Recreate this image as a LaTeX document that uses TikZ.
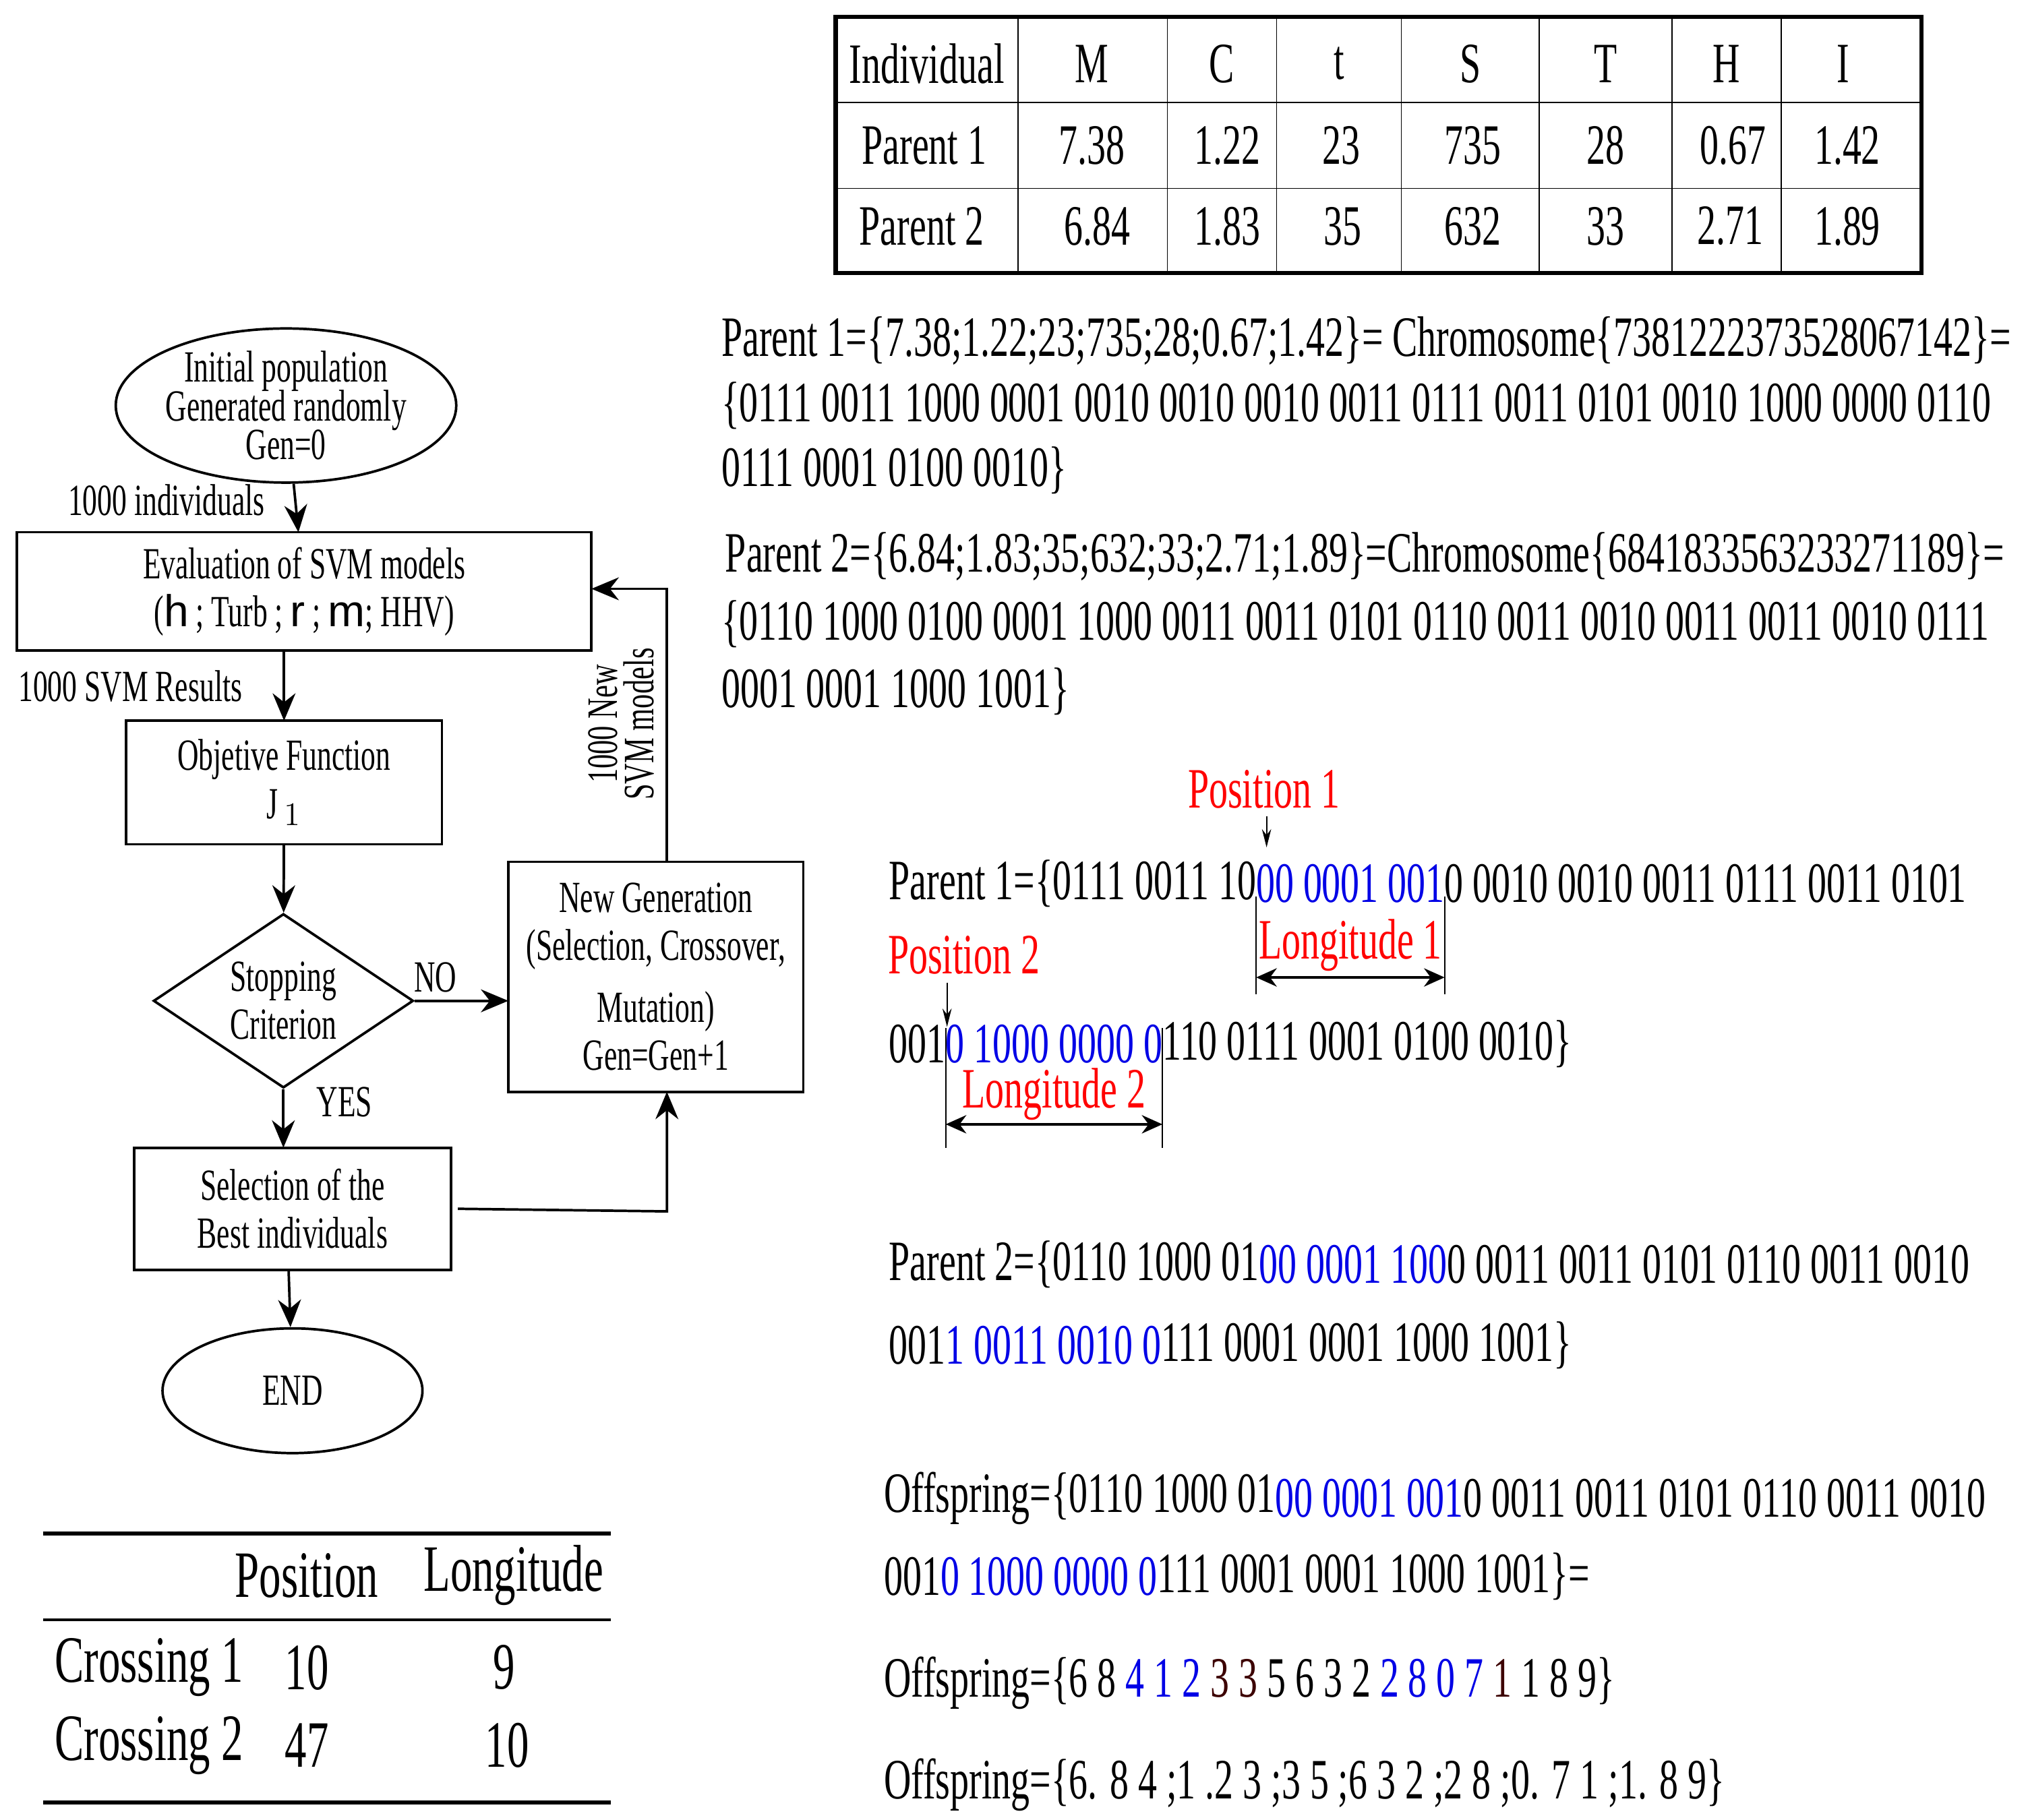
\documentclass[tikz,border=0pt]{standalone}
\usepackage{fontspec}
\setmainfont{Liberation Serif}[FakeStretch=0.66]
\newfontfamily\sansf{Liberation Sans}
\usetikzlibrary{shapes.geometric,arrows.meta,calc}
\definecolor{myblue}{RGB}{0,0,230}
\definecolor{dred}{RGB}{60,0,0}
\begin{document}
\begin{tikzpicture}[x=0.02cm,y=-0.02cm,
  fl/.style={line width=1.1pt},
  arr/.style={fl,-{Stealth[length=12pt,width=10pt]}},
  box/.style={draw,fl,inner sep=0,outer sep=0},
  ft/.style={font=\fontsize{19.5}{21}\selectfont,align=center},
  big/.style={font=\fontsize{25}{30}\selectfont,anchor=west,inner sep=0,outer sep=0},
  tb/.style={font=\fontsize{25}{30}\selectfont},
  red/.style={text=red,font=\fontsize{25}{30}\selectfont},
  dim/.style={line width=0.5pt},
  darr/.style={line width=1.2pt,{Stealth[length=9pt,width=8pt]}-{Stealth[length=9pt,width=8pt]}},
  sarr/.style={line width=0.6pt,-{Stealth[length=8pt,width=4pt]}}]
\useasboundingbox (0,0) rectangle (1560,1400);
\coordinate (y607) at (0,607);
\coordinate (y727) at (0,727);
\coordinate (y752) at (0,752);
\coordinate (y735) at (0,735);
\coordinate (y790) at (0,790);
\coordinate (y842) at (0,842);
\coordinate (y865) at (0,865);
% ---------- top table ----------
\draw[line width=2pt] (643,13) rectangle (1478,210);
\foreach \y in {79,145} \draw[line width=0.5pt] (643,\y)--(1478,\y);
\foreach \x in {783,898,982,1078,1184,1286,1370} \draw[line width=0.5pt] (\x,13)--(\x,210);
\foreach \t/\x in {Individual/713,M/840,C/940,t/1030,S/1131,T/1235,H/1328,I/1418}
  \node[tb] at (\x,49) {\t};
\foreach \t/\x in {Parent 1/711,7.38/840,1.22/944,23/1032,735/1133,28/1235,0.67/1333,1.42/1421}
  \node[tb] at (\x,112) {\t};
\foreach \t/\x in {Parent 2/709,6.84/844,1.83/944,35/1033,632/1133,33/1235,2.71/1331,1.89/1421}
  \node[tb] at (\x,174) {\t};
% ---------- parent strings ----------
\node[big] (p1a) at (555,262) {Parent 1=\{7.38;1.22;23;735;28;0.67;1.42\}= Chromosome\{7381222373528067142\}=};
\node[big] (p1b) at (555,312) {\{0111 0011 1000 0001 0010 0010 0010 0011 0111 0011 0101 0010 1000 0000 0110};
\node[big] (p1c) at (555,362) {0111 0001 0100 0010\}};
\node[big] (p2a) at (558,428) {Parent 2=\{6.84;1.83;35;632;33;2.71;1.89\}=Chromosome\{6841833563233271189\}=};
\node[big] (p2b) at (555,480) {\{0110 1000 0100 0001 1000 0011 0011 0101 0110 0011 0010 0011 0011 0010 0111};
\node[big] (p2c) at (555,532) {0001 0001 1000 1001\}};
% ---------- crossover on parent 1 ----------
\node[big] (c1a) at (684,680) {Parent 1=\{0111 0011 10};
\node[big,text=myblue] (c1b) at (c1a.east) {00 0001 001};
\node[big] (c1c) at (c1b.east) {0 0010 0010 0011 0111 0011 0101};
\node[big] (c2a) at (684,803) {001};
\node[big,text=myblue] (c2b) at (c2a.east) {0 1000 0000 0};
\node[big] (c2c) at (c2b.east) {110 0111 0001 0100 0010\}};
\node[red] (pos1) at ($(c1b.west |- y607)+(6,0)$) {Position 1};
\coordinate (p1t) at ($(c1b.west |- y607)+(8,45)$);
\draw[sarr] (p1t |- pos1.south) -- (p1t);
\draw[dim] (c1b.west) ++(0,10) -- ++(0,75);
\draw[dim] (c1b.east) ++(0,10) -- ++(0,75);
\coordinate (m1) at ($(c1b.west)!0.5!(c1b.east)$);
\node[red] at (m1 |- y727) {Longitude 1};
\draw[darr] (c1b.west |- y752) -- (c1b.east |- y752);
\node[red] (pos2) at ($(c2b.west |- y735)+(14,0)$) {Position 2};
\coordinate (p2t) at ($(c2b.west |- y790)+(1,0)$);
\draw[sarr] (p2t |- pos2.south) -- (p2t);
\draw[dim] (c2b.west) ++(0,-12) -- ++(0,92);
\draw[dim] (c2b.east) ++(0,-12) -- ++(0,92);
\coordinate (m2) at ($(c2b.west)!0.5!(c2b.east)$);
\node[red] at (m2 |- y842) {Longitude 2};
\draw[darr] (c2b.west |- y865) -- (c2b.east |- y865);
% ---------- parent 2 crossover ----------
\node[big] (d1a) at (684,973) {Parent 2=\{0110 1000 01};
\node[big,text=myblue] (d1b) at (d1a.east) {00 0001 100};
\node[big] (d1c) at (d1b.east) {0 0011 0011 0101 0110 0011 0010};
\node[big] (d2a) at (684,1035) {001};
\node[big,text=myblue] (d2b) at (d2a.east) {1 0011 0010 0};
\node[big] (d2c) at (d2b.east) {111 0001 0001 1000 1001\}};
% ---------- offspring ----------
\node[big] (o1a) at (680,1153) {Offspring=\{0110 1000 01};
\node[big,text=myblue] (o1b) at (o1a.east) {00 0001 001};
\node[big] (o1c) at (o1b.east) {0 0011 0011 0101 0110 0011 0010};
\node[big] (o2a) at (680,1213) {001};
\node[big,text=myblue] (o2b) at (o2a.east) {0 1000 0000 0};
\node[big] (o2c) at (o2b.east) {111 0001 0001 1000 1001\}=};
\node[big] (o3) at (680,1295) {Offspring=\{6 8 \textcolor{myblue}{4 1 2} \textcolor{dred}{3 3} 5 6 3 2 \textcolor{myblue}{2 8 0 7} \textcolor{dred}{1} 1 8 9\}};
\node[big] (o4) at (680,1373) {Offspring=\{6. 8 4 ;1 .2 3 ;3 5 ;6 3 2 ;2 8 ;0. 7 1 ;1. 8 9\}};
% ---------- flowchart ----------
\node[draw,fl,ellipse,minimum width=5cm,minimum height=1.92cm,ft,inner sep=0] (start) at (220,312)
  {Initial population\\[-4pt]Generated randomly\\[-4pt]Gen=0};
\node[box,ft,minimum width=8.84cm,minimum height=1.82cm] (eval) at (234,455)
  {Evaluation of SVM models\\({\sansf h} ; Turb ; {\sansf r} ; {\sansf m}; HHV)};
\node[box,ft,minimum width=4.86cm,minimum height=1.9cm] (obj) at (218.5,602)
  {Objetive Function\\J$_{\,1}$};
\node[draw,fl,diamond,aspect=1.49,minimum width=4cm,minimum height=2.68cm,ft,inner sep=0] (stop) at (218,770)
  {Stopping\\Criterion};
\node[box,ft,minimum width=4.54cm,minimum height=3.54cm] (newg) at (504.5,751.5)
  {New Generation\\(Selection, Crossover,\\[6pt]Mutation)\\Gen=Gen+1};
\node[box,ft,minimum width=4.88cm,minimum height=1.88cm] (sel) at (225,930)
  {Selection of the\\Best individuals};
\node[draw,fl,ellipse,minimum width=4cm,minimum height=1.92cm,ft] (endn) at (225,1070) {END};
\draw[arr] (start) -- (eval);
\node[ft,anchor=east] at (210,385) {1000 individuals};
\draw[arr] (eval.south -| obj) -- (obj);
\node[ft,anchor=west] at (8,528) {1000 SVM Results};
\draw[arr] (obj) -- (stop);
\draw[arr] (stop.east) -- (newg.west |- stop.east);
\node[ft] at (335,752) {NO};
\draw[arr] (stop.south) -- (sel.north -| stop.south);
\node[ft] at (265,848) {YES};
\coordinate (x222) at (222,0);
\draw[arr] (sel.south -| x222) -- (endn);
\coordinate (k1) at (513,932);
\draw[arr] ([xshift=3]sel.east) -- (k1) -- (newg.south -| k1);
\coordinate (k2) at (513,453);
\draw[arr] (newg.north -| k2) -- (k2) -- (eval.east |- k2);
\node[ft,rotate=90,font=\fontsize{19}{16}\selectfont] at (478,557) {1000 New\\SVM models};
% ---------- bottom table ----------
\draw[line width=1.8pt] (33,1180) -- (470,1180);
\draw[line width=1.2pt] (33,1246) -- (470,1246);
\draw[line width=1.8pt] (33,1387) -- (470,1387);
\tikzset{bt/.style={font=\fontsize{29}{32}\selectfont}}
\node[bt] at (236,1212) {Position};
\node[bt] at (395,1212) {Longitude};
\node[bt,anchor=west] at (36,1283) {Crossing 1};
\node[bt,anchor=west] at (36,1343) {Crossing 2};
\node[bt] at (236,1283) {10};
\node[bt] at (236,1343) {47};
\node[bt] at (388,1283) {9};
\node[bt] at (390,1343) {10};
\end{tikzpicture}
\end{document}
